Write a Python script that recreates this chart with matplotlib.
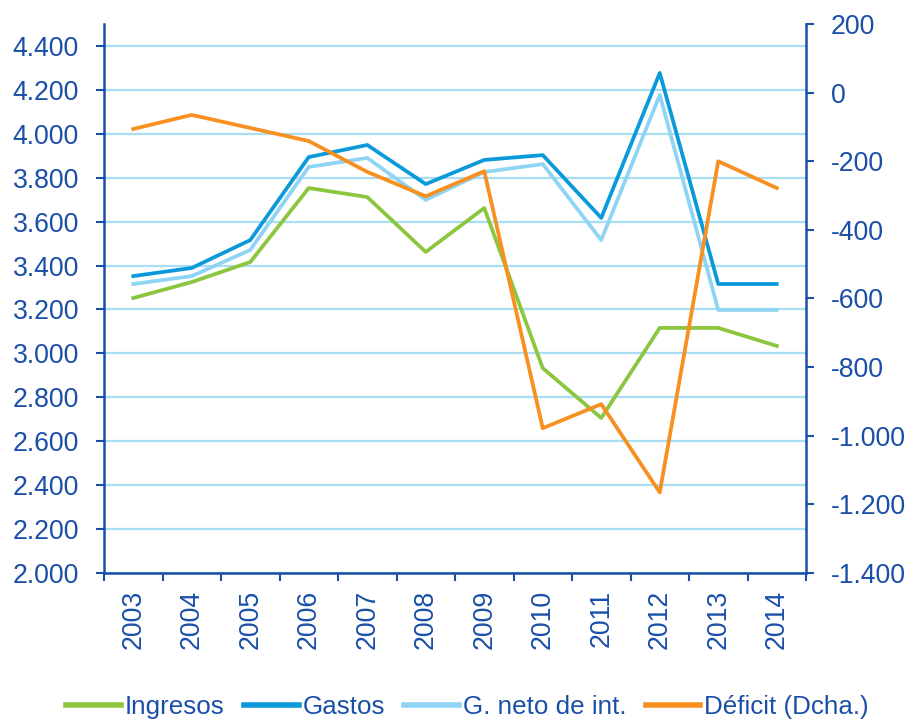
import matplotlib
matplotlib.use("Agg")
import matplotlib.pyplot as plt
from matplotlib.ticker import FuncFormatter

years = ["2003", "2004", "2005", "2006", "2007", "2008", "2009", "2010", "2011", "2012", "2013", "2014"]
ingresos = [3252, 3325, 3416, 3753, 3712, 3462, 3662, 2933, 2706, 3116, 3116, 3034]
gastos = [3352, 3389, 3516, 3894, 3949, 3771, 3881, 3903, 3617, 4277, 3316, 3316]
neto_int = [3316, 3352, 3471, 3849, 3890, 3699, 3826, 3862, 3516, 4177, 3198, 3198]
deficit = [-106, -65, -103, -141, -231, -302, -229, -978, -908, -1165, -200, -278]

blue_txt = "#1a4fa8"
plt.rcParams["font.family"] = ["Liberation Sans", "DejaVu Sans"]
fs = 19.2
fs_leg = 18.7


def es_fmt(v, pos):
    return "{:,.0f}".format(v).replace(",", ".")


fig = plt.figure(figsize=(9.08, 7.2), dpi=100)
ax = fig.add_axes([104 / 908, 1 - 573 / 720, (806 - 104) / 908, (573 - 24) / 720])
ax2 = ax.twinx()

x = list(range(len(years)))
lw = 2.7
l1, = ax.plot(x, ingresos, color="#8cc63f", lw=lw, label="Ingresos")
l2, = ax.plot(x, gastos, color="#0a9ad9", lw=lw, label="Gastos")
l3, = ax.plot(x, neto_int, color="#8fd4f4", lw=lw, label="G. neto de int.")
l4, = ax2.plot(x, deficit, color="#f7901e", lw=lw, label="Déficit (Dcha.)")

ax.set_xlim(-0.5, 11.5)
ax.set_ylim(2000, 4500)
ax.set_yticks(range(2000, 4401, 200))
ax2.set_ylim(-1400, 200)
ax2.set_yticks(range(-1400, 201, 200))
ax.yaxis.set_major_formatter(FuncFormatter(es_fmt))
ax2.yaxis.set_major_formatter(FuncFormatter(es_fmt))

ax.grid(axis="y", color="#a9def4", lw=1.6)
ax.set_axisbelow(True)

ax.set_xticks([i - 0.5 for i in range(13)])
ax.set_xticklabels([])
ax.set_xticks(x, minor=True)
ax.set_xticklabels(years, minor=True, rotation=90)
ax.tick_params(axis="x", which="minor", length=0, pad=12, labelsize=fs, labelcolor=blue_txt)
ax.tick_params(axis="x", which="major", length=6, width=1.5, color=blue_txt)
ax.tick_params(axis="y", length=6, width=1.5, color=blue_txt, labelsize=fs, labelcolor=blue_txt, pad=12)
ax2.tick_params(axis="y", length=6, width=1.5, color=blue_txt, labelsize=fs, labelcolor=blue_txt, pad=12)

for a in (ax, ax2):
    for s in a.spines.values():
        s.set_visible(False)
ax.spines["left"].set_visible(True)
ax.spines["bottom"].set_visible(True)
ax2.spines["right"].set_visible(True)
for s in (ax.spines["left"], ax.spines["bottom"], ax2.spines["right"]):
    s.set_color(blue_txt)
    s.set_linewidth(1.8)

leg = fig.legend(handles=[l1, l2, l3, l4], loc="center", bbox_to_anchor=(0.515, 1 - 707 / 720),
                 ncol=4, frameon=False, fontsize=fs_leg, handlelength=2.1, handletextpad=0.15,
                 columnspacing=0.75, borderpad=0)
for t in leg.get_texts():
    t.set_color(blue_txt)
for h in leg.legend_handles:
    h.set_linewidth(4)

fig.savefig("out.png", dpi=100)
